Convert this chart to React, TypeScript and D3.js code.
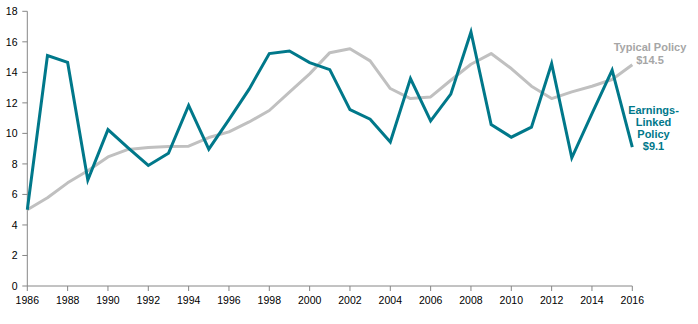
import React from "react";
import * as d3 from "d3";

const years: number[] = d3.range(1986, 2017);
const earningsLinked: number[] = [
  5.0, 15.1, 14.65, 6.95, 10.25, 9.05, 7.9, 8.7, 11.83, 8.97,
  10.9, 12.9, 15.23, 15.4, 14.64, 14.18, 11.56, 10.93, 9.44, 13.59,
  10.82, 12.57, 16.64, 10.58, 9.75, 10.41, 14.57, 8.4, 11.3, 14.14, 9.1,
];
const typicalPolicy: number[] = [
  5.0, 5.78, 6.76, 7.55, 8.46, 8.95, 9.08, 9.14, 9.16, 9.73,
  10.1, 10.75, 11.5, 12.7, 13.9, 15.29, 15.55, 14.75, 12.94, 12.28,
  12.39, 13.48, 14.53, 15.23, 14.25, 13.09, 12.28, 12.72, 13.09, 13.53, 14.5,
];
const yTicks: number[] = [0, 2, 4, 6, 8, 10, 12, 14, 16, 18];
const xTicks: number[] = d3.range(1986, 2017, 2);
const typicalLabel: string[] = ["Typical Policy", "$14.5"];
const earningsLabel: string[] = ["Earnings-", "Linked", "Policy", "$9.1"];

const W = 698;
const H = 324;
const margin = { left: 27.3, right: 66, top: 11.3, bottom: 38 };

export default function App() {
  const x = d3.scaleLinear().domain([1986, 2016]).range([margin.left, 632.3]);
  const y = d3.scaleLinear().domain([0, 18]).range([286, 11.3]);
  const line = d3
    .line<number>()
    .x((_, i) => x(years[i]))
    .y((d) => y(d));
  const font = "'Liberation Sans', Arial, sans-serif";
  return (
    <svg
      width={W}
      height={H}
      style={{ position: "absolute", left: 0, top: 0, background: "#fff" }}
      fontFamily={font}
    >
      <line x1={x(1986)} x2={x(1986)} y1={y(18)} y2={y(0)} stroke="#868686" strokeWidth={1} />
      <line x1={x(1986)} x2={x(2016)} y1={y(0)} y2={y(0)} stroke="#868686" strokeWidth={1} />
      {yTicks.map((t) => (
        <g key={"y" + t}>
          <line x1={x(1986) - 5} x2={x(1986)} y1={y(t)} y2={y(t)} stroke="#868686" />
          <text x={17.5} y={y(t)} dy="0.36em" textAnchor="end" fontSize={10.5} fill="#000">
            {t}
          </text>
        </g>
      ))}
      {xTicks.map((t) => (
        <g key={"x" + t}>
          <line x1={x(t)} x2={x(t)} y1={y(0)} y2={y(0) + 5} stroke="#868686" />
          <text x={x(t)} y={303.5} textAnchor="middle" fontSize={10.5} fill="#000">
            {t}
          </text>
        </g>
      ))}
      <path d={line(typicalPolicy) || ""} fill="none" stroke="#c0c0c0" strokeWidth={3} strokeLinejoin="round" />
      <path d={line(earningsLinked) || ""} fill="none" stroke="#00788a" strokeWidth={3} strokeLinejoin="miter" />
      {typicalLabel.map((s, i) => (
        <text
          key={s}
          x={650}
          y={51 + i * 13}
          textAnchor="middle"
          fontSize={11}
          fontWeight="bold"
          fill="#a6a6a6"
        >
          {s}
        </text>
      ))}
      {earningsLabel.map((s, i) => (
        <text
          key={s}
          x={653.5}
          y={113.5 + i * 12.3}
          textAnchor="middle"
          fontSize={11}
          fontWeight="bold"
          fill="#00788a"
        >
          {s}
        </text>
      ))}
    </svg>
  );
}
